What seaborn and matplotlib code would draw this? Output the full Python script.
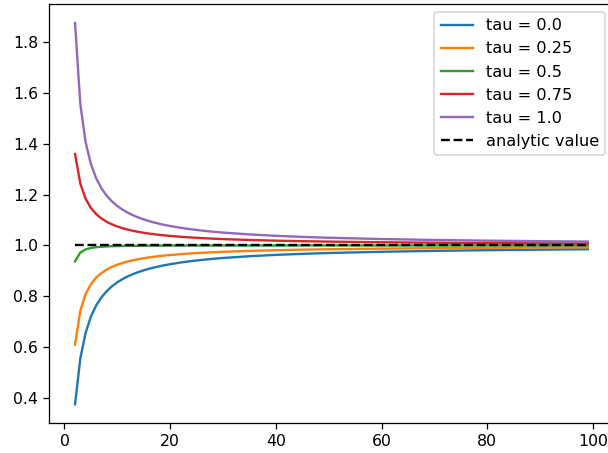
import matplotlib
matplotlib.use("Agg")
import matplotlib.pyplot as plt
import seaborn as sns
import pandas as pd

n_values = [2, 3, 4, 5, 6, 7, 8, 9, 10, 11, 12, 13, 14, 15, 16, 17, 18, 19, 20,
            22, 24, 26, 28, 30, 35, 40, 45, 50, 60, 70, 80, 90, 99]

tau_00 = [0.375, 0.5556, 0.6563, 0.72, 0.7639, 0.7959, 0.8203, 0.8395, 0.855, 0.8678,
          0.8785, 0.8876, 0.8954, 0.9022, 0.9082, 0.9135, 0.9182, 0.9224, 0.9263,
          0.9329, 0.9384, 0.9430, 0.9471, 0.9506, 0.9576, 0.9628, 0.9669, 0.9702,
          0.9751, 0.9787, 0.9813, 0.9834, 0.9849]
tau_025 = [0.6094, 0.7431, 0.8086, 0.8475, 0.8733, 0.8916, 0.9053, 0.9159, 0.9244, 0.9313,
           0.9371, 0.9419, 0.9461, 0.9497, 0.9529, 0.9557, 0.9581, 0.9604, 0.9623,
           0.9658, 0.9686, 0.9711, 0.9731, 0.9749, 0.9785, 0.9812, 0.9833, 0.9850,
           0.9875, 0.9893, 0.9906, 0.9917, 0.9924]
tau_05 = [0.9375, 0.9722, 0.9844, 0.99, 0.9931, 0.9949, 0.9961, 0.9969, 0.9975, 0.9979,
          0.9983, 0.9985, 0.9987, 0.9989, 0.9990, 0.9991, 0.9992, 0.9993, 0.9994,
          0.9995, 0.9996, 0.9996, 0.9997, 0.9997, 0.9998, 0.9998, 0.9999, 0.9999,
          0.9999, 1.0, 1.0, 1.0, 1.0]
tau_075 = [1.3594, 1.2431, 1.1836, 1.1475, 1.1233, 1.1059, 1.0928, 1.0826, 1.0744, 1.0677,
           1.0621, 1.0573, 1.0533, 1.0497, 1.0466, 1.0439, 1.0415, 1.0393, 1.0373,
           1.0340, 1.0311, 1.0288, 1.0267, 1.0249, 1.0214, 1.0187, 1.0166, 1.0150,
           1.0125, 1.0107, 1.0094, 1.0083, 1.0076]
tau_10 = [1.875, 1.5556, 1.4063, 1.32, 1.2639, 1.2245, 1.1953, 1.1728, 1.155, 1.1405,
          1.1285, 1.1183, 1.1097, 1.1022, 1.0957, 1.0900, 1.0849, 1.0803, 1.0763,
          1.0692, 1.0634, 1.0584, 1.0542, 1.0506, 1.0433, 1.0378, 1.0336, 1.0302,
          1.0251, 1.0215, 1.0188, 1.0167, 1.0152]

series_labels = ["tau = 0.0", "tau = 0.25", "tau = 0.5", "tau = 0.75", "tau = 1.0"]
series_values = [tau_00, tau_025, tau_05, tau_075, tau_10]

analytic_x = [2, 99]
analytic_y = [1.0, 1.0]

colors = ["#1f77b4", "#ff7f0e", "#2ca02c", "#d62728", "#9467bd"]

rows = []
for lab, vals in zip(series_labels, series_values):
    for n, v in zip(n_values, vals):
        rows.append({"n": n, "value": v, "series": lab})
df = pd.DataFrame(rows)

plt.rcParams["font.family"] = ["DejaVu Sans"]
DPI = 113.7
W, H = 608, 453
fig = plt.figure(figsize=(W / DPI, H / DPI), dpi=DPI)
ax = fig.add_axes([49.4 / W, 29.6 / H, 564 / W, 419.5 / H])
sns.lineplot(data=df, x="n", y="value", hue="series", hue_order=series_labels,
             palette=colors, ax=ax, linewidth=1.5)
sns.lineplot(x=analytic_x, y=analytic_y, ax=ax, color="black", linestyle="--",
             linewidth=1.5, label="analytic value")
ax.set_xlabel("")
ax.set_ylabel("")
ax.set_xticks([0, 20, 40, 60, 80, 100])
ax.set_yticks([0.4, 0.6, 0.8, 1.0, 1.2, 1.4, 1.6, 1.8])
ax.set_xlim(-2.85, 103.85)
ax.set_ylim(0.3, 1.95)
ax.legend(loc="upper right", fontsize=10.2)
fig.savefig("out.png", dpi=DPI)
